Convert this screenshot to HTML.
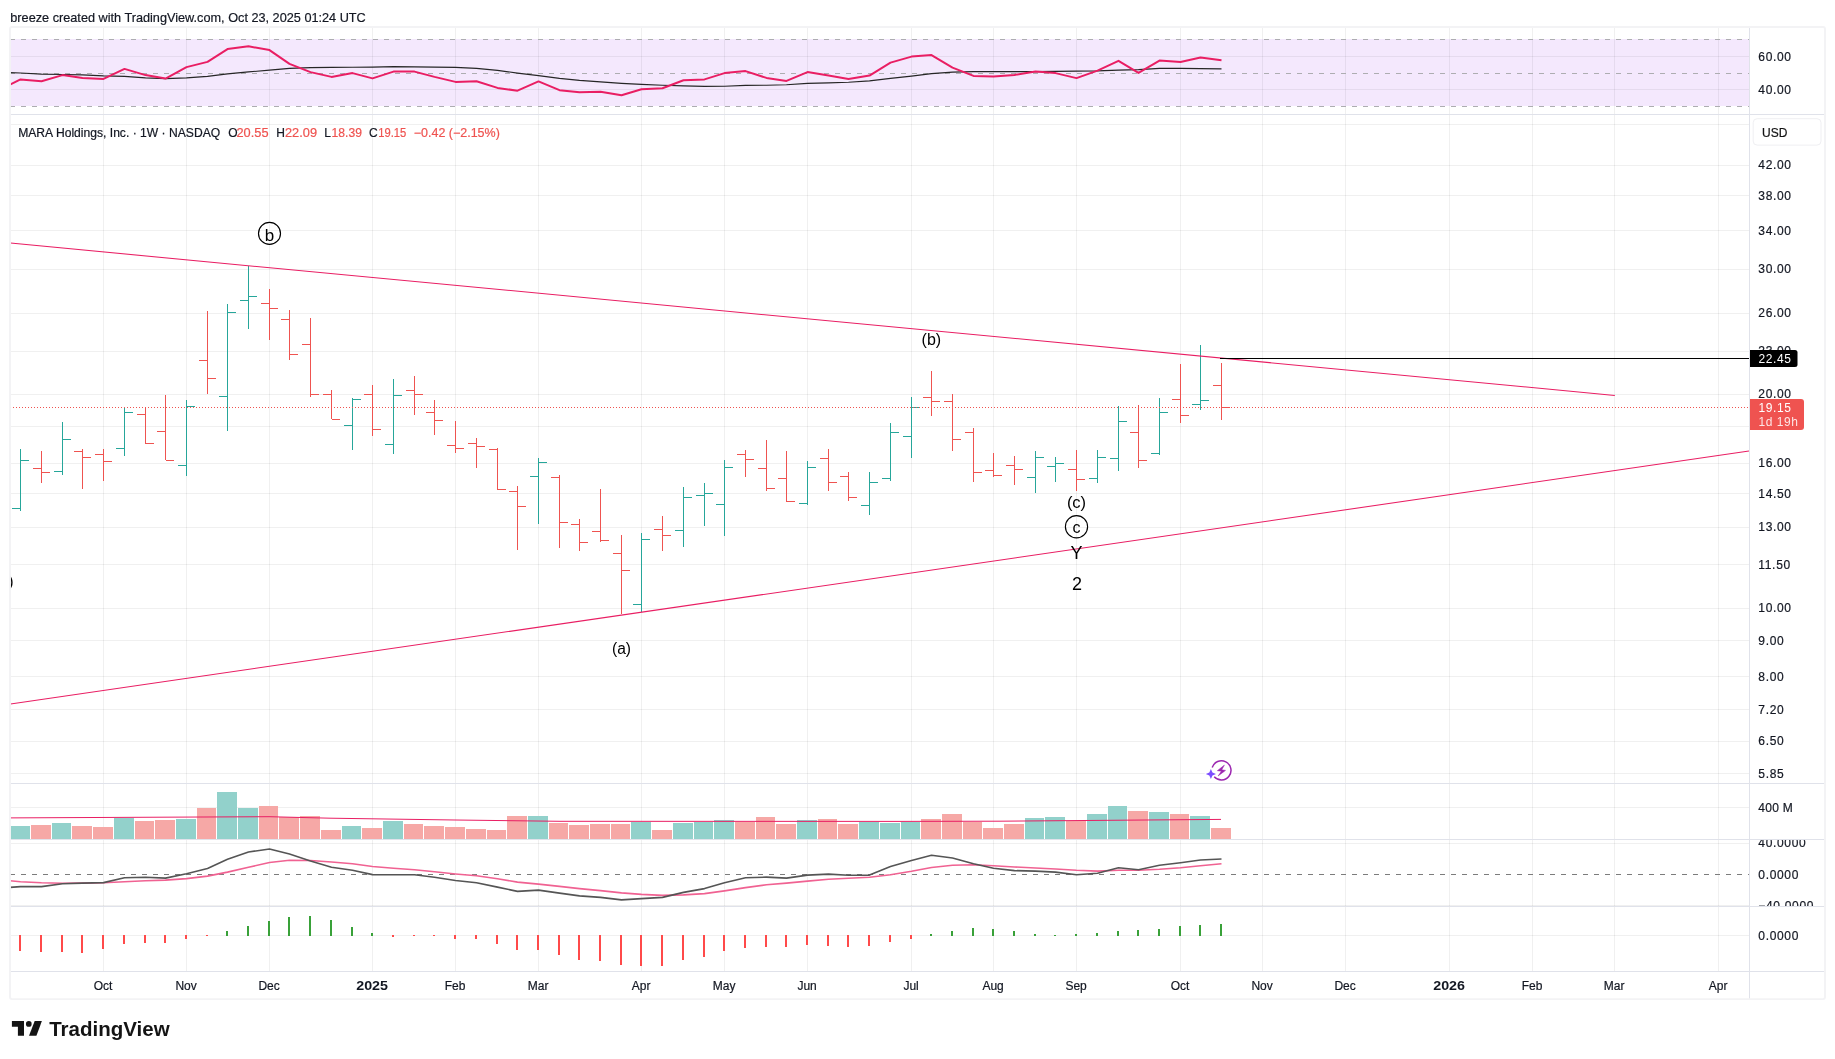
<!DOCTYPE html>
<html><head><meta charset="utf-8"><title>MARA chart</title>
<style>html,body{margin:0;padding:0;background:#fff}body{width:1835px;height:1059px;overflow:hidden}svg{will-change:transform}</style></head>
<body>
<svg width="1835" height="1059" viewBox="0 0 1835 1059" style="display:block;font-family:'Liberation Sans',sans-serif">
<defs><clipPath id="cp"><rect x="10.2" y="27" width="1739" height="945"/></clipPath>
<clipPath id="cpm"><rect x="1750" y="840" width="75" height="66"/></clipPath></defs>
<rect width="1835" height="1059" fill="#fff"/>
<rect x="10" y="39" width="1739" height="67" fill="#f4e8fd"/>
<g shape-rendering="crispEdges" fill="#000" fill-opacity="0.06">
<rect x="103" y="27" width="1" height="944"/>
<rect x="186" y="27" width="1" height="944"/>
<rect x="269" y="27" width="1" height="944"/>
<rect x="372" y="27" width="1" height="944"/>
<rect x="455" y="27" width="1" height="944"/>
<rect x="538" y="27" width="1" height="944"/>
<rect x="641" y="27" width="1" height="944"/>
<rect x="724" y="27" width="1" height="944"/>
<rect x="807" y="27" width="1" height="944"/>
<rect x="911" y="27" width="1" height="944"/>
<rect x="993" y="27" width="1" height="944"/>
<rect x="1076" y="27" width="1" height="944"/>
<rect x="1180" y="27" width="1" height="944"/>
<rect x="1262" y="27" width="1" height="944"/>
<rect x="1345" y="27" width="1" height="944"/>
<rect x="1449" y="27" width="1" height="944"/>
<rect x="1532" y="27" width="1" height="944"/>
<rect x="1614" y="27" width="1" height="944"/>
<rect x="1718" y="27" width="1" height="944"/>
<rect x="10" y="124" width="1739" height="1"/>
<rect x="10" y="165" width="1739" height="1"/>
<rect x="10" y="195" width="1739" height="1"/>
<rect x="10" y="230" width="1739" height="1"/>
<rect x="10" y="269" width="1739" height="1"/>
<rect x="10" y="313" width="1739" height="1"/>
<rect x="10" y="351" width="1739" height="1"/>
<rect x="10" y="394" width="1739" height="1"/>
<rect x="10" y="426" width="1739" height="1"/>
<rect x="10" y="463" width="1739" height="1"/>
<rect x="10" y="493" width="1739" height="1"/>
<rect x="10" y="527" width="1739" height="1"/>
<rect x="10" y="564" width="1739" height="1"/>
<rect x="10" y="608" width="1739" height="1"/>
<rect x="10" y="640" width="1739" height="1"/>
<rect x="10" y="676" width="1739" height="1"/>
<rect x="10" y="709" width="1739" height="1"/>
<rect x="10" y="741" width="1739" height="1"/>
<rect x="10" y="773" width="1739" height="1"/>
<rect x="10" y="56" width="1739" height="1"/>
<rect x="10" y="89" width="1739" height="1"/>
<rect x="10" y="807" width="1739" height="1"/>
<rect x="10" y="843" width="1739" height="1"/>
<rect x="10" y="905" width="1739" height="1"/>
<rect x="10" y="935" width="1739" height="1"/>
</g>
<line x1="10" x2="1749" y1="39.5" y2="39.5" stroke="#adadb1" stroke-width="1" stroke-dasharray="5,6" shape-rendering="crispEdges"/>
<line x1="10" x2="1749" y1="73.5" y2="73.5" stroke="#adadb1" stroke-width="1" stroke-dasharray="5,6" shape-rendering="crispEdges"/>
<line x1="10" x2="1749" y1="106.5" y2="106.5" stroke="#adadb1" stroke-width="1" stroke-dasharray="5,6" shape-rendering="crispEdges"/>
<line x1="10" x2="1749" y1="874.5" y2="874.5" stroke="#7c7c7c" stroke-width="1" stroke-dasharray="5,6" shape-rendering="crispEdges"/>
<g clip-path="url(#cp)">
<rect x="10" y="826" width="20" height="13" fill="#92d1cb" shape-rendering="crispEdges"/>
<rect x="31" y="825" width="20" height="14" fill="#f6a8a6" shape-rendering="crispEdges"/>
<rect x="52" y="823" width="19" height="16" fill="#92d1cb" shape-rendering="crispEdges"/>
<rect x="72" y="826" width="20" height="13" fill="#f6a8a6" shape-rendering="crispEdges"/>
<rect x="93" y="827" width="20" height="12" fill="#f6a8a6" shape-rendering="crispEdges"/>
<rect x="114" y="818" width="20" height="21" fill="#92d1cb" shape-rendering="crispEdges"/>
<rect x="135" y="821" width="19" height="18" fill="#f6a8a6" shape-rendering="crispEdges"/>
<rect x="155" y="820" width="20" height="19" fill="#f6a8a6" shape-rendering="crispEdges"/>
<rect x="176" y="819" width="20" height="20" fill="#92d1cb" shape-rendering="crispEdges"/>
<rect x="197" y="808" width="19" height="31" fill="#f6a8a6" shape-rendering="crispEdges"/>
<rect x="217" y="792" width="20" height="47" fill="#92d1cb" shape-rendering="crispEdges"/>
<rect x="238" y="808" width="20" height="31" fill="#92d1cb" shape-rendering="crispEdges"/>
<rect x="259" y="806" width="19" height="33" fill="#f6a8a6" shape-rendering="crispEdges"/>
<rect x="279" y="817" width="20" height="22" fill="#f6a8a6" shape-rendering="crispEdges"/>
<rect x="300" y="816" width="20" height="23" fill="#f6a8a6" shape-rendering="crispEdges"/>
<rect x="321" y="830" width="20" height="9" fill="#f6a8a6" shape-rendering="crispEdges"/>
<rect x="342" y="826" width="19" height="13" fill="#92d1cb" shape-rendering="crispEdges"/>
<rect x="362" y="828" width="20" height="11" fill="#f6a8a6" shape-rendering="crispEdges"/>
<rect x="383" y="821" width="20" height="18" fill="#92d1cb" shape-rendering="crispEdges"/>
<rect x="404" y="824" width="19" height="15" fill="#f6a8a6" shape-rendering="crispEdges"/>
<rect x="424" y="826" width="20" height="13" fill="#f6a8a6" shape-rendering="crispEdges"/>
<rect x="445" y="827" width="20" height="12" fill="#f6a8a6" shape-rendering="crispEdges"/>
<rect x="466" y="829" width="20" height="10" fill="#f6a8a6" shape-rendering="crispEdges"/>
<rect x="487" y="830" width="19" height="9" fill="#f6a8a6" shape-rendering="crispEdges"/>
<rect x="507" y="816" width="20" height="23" fill="#f6a8a6" shape-rendering="crispEdges"/>
<rect x="528" y="816" width="20" height="23" fill="#92d1cb" shape-rendering="crispEdges"/>
<rect x="549" y="823" width="19" height="16" fill="#f6a8a6" shape-rendering="crispEdges"/>
<rect x="569" y="825" width="20" height="14" fill="#f6a8a6" shape-rendering="crispEdges"/>
<rect x="590" y="824" width="20" height="15" fill="#f6a8a6" shape-rendering="crispEdges"/>
<rect x="611" y="824" width="19" height="15" fill="#f6a8a6" shape-rendering="crispEdges"/>
<rect x="631" y="822" width="20" height="17" fill="#92d1cb" shape-rendering="crispEdges"/>
<rect x="652" y="830" width="20" height="9" fill="#f6a8a6" shape-rendering="crispEdges"/>
<rect x="673" y="823" width="20" height="16" fill="#92d1cb" shape-rendering="crispEdges"/>
<rect x="694" y="822" width="19" height="17" fill="#92d1cb" shape-rendering="crispEdges"/>
<rect x="714" y="820" width="20" height="19" fill="#92d1cb" shape-rendering="crispEdges"/>
<rect x="735" y="822" width="20" height="17" fill="#f6a8a6" shape-rendering="crispEdges"/>
<rect x="756" y="817" width="19" height="22" fill="#f6a8a6" shape-rendering="crispEdges"/>
<rect x="776" y="824" width="20" height="15" fill="#f6a8a6" shape-rendering="crispEdges"/>
<rect x="797" y="820" width="20" height="19" fill="#92d1cb" shape-rendering="crispEdges"/>
<rect x="818" y="819" width="19" height="20" fill="#f6a8a6" shape-rendering="crispEdges"/>
<rect x="838" y="824" width="20" height="15" fill="#f6a8a6" shape-rendering="crispEdges"/>
<rect x="859" y="822" width="20" height="17" fill="#92d1cb" shape-rendering="crispEdges"/>
<rect x="880" y="823" width="20" height="16" fill="#92d1cb" shape-rendering="crispEdges"/>
<rect x="901" y="822" width="19" height="17" fill="#92d1cb" shape-rendering="crispEdges"/>
<rect x="921" y="819" width="20" height="20" fill="#f6a8a6" shape-rendering="crispEdges"/>
<rect x="942" y="814" width="20" height="25" fill="#f6a8a6" shape-rendering="crispEdges"/>
<rect x="963" y="822" width="19" height="17" fill="#f6a8a6" shape-rendering="crispEdges"/>
<rect x="983" y="828" width="20" height="11" fill="#f6a8a6" shape-rendering="crispEdges"/>
<rect x="1004" y="824" width="20" height="15" fill="#f6a8a6" shape-rendering="crispEdges"/>
<rect x="1025" y="818" width="19" height="21" fill="#92d1cb" shape-rendering="crispEdges"/>
<rect x="1045" y="817" width="20" height="22" fill="#92d1cb" shape-rendering="crispEdges"/>
<rect x="1066" y="821" width="20" height="18" fill="#f6a8a6" shape-rendering="crispEdges"/>
<rect x="1087" y="814" width="20" height="25" fill="#92d1cb" shape-rendering="crispEdges"/>
<rect x="1108" y="806" width="19" height="33" fill="#92d1cb" shape-rendering="crispEdges"/>
<rect x="1128" y="811" width="20" height="28" fill="#f6a8a6" shape-rendering="crispEdges"/>
<rect x="1149" y="812" width="20" height="27" fill="#92d1cb" shape-rendering="crispEdges"/>
<rect x="1170" y="814" width="19" height="25" fill="#f6a8a6" shape-rendering="crispEdges"/>
<rect x="1190" y="816" width="20" height="23" fill="#92d1cb" shape-rendering="crispEdges"/>
<rect x="1211" y="828" width="20" height="11" fill="#f6a8a6" shape-rendering="crispEdges"/>
<polyline fill="none" stroke="#e91e63" stroke-width="1" points="10,817.9 269,816.7 330,818.2 455,820.0 560,821.3 900,821.4 1000,821.2 1221,819.4"/>
<g fill="#26a69a" shape-rendering="crispEdges"><rect x="20" y="449" width="1" height="62"/><rect x="12" y="508" width="8" height="1"/><rect x="21" y="460" width="8" height="1"/></g>
<g fill="#ef5350" shape-rendering="crispEdges"><rect x="41" y="451" width="1" height="32"/><rect x="33" y="468" width="8" height="1"/><rect x="42" y="472" width="8" height="1"/></g>
<g fill="#26a69a" shape-rendering="crispEdges"><rect x="62" y="422" width="1" height="53"/><rect x="54" y="471" width="8" height="1"/><rect x="63" y="439" width="8" height="1"/></g>
<g fill="#ef5350" shape-rendering="crispEdges"><rect x="82" y="449" width="1" height="40"/><rect x="74" y="451" width="8" height="1"/><rect x="83" y="457" width="8" height="1"/></g>
<g fill="#ef5350" shape-rendering="crispEdges"><rect x="103" y="449" width="1" height="32"/><rect x="95" y="454" width="8" height="1"/><rect x="104" y="461" width="8" height="1"/></g>
<g fill="#26a69a" shape-rendering="crispEdges"><rect x="124" y="408" width="1" height="48"/><rect x="116" y="448" width="8" height="1"/><rect x="125" y="412" width="8" height="1"/></g>
<g fill="#ef5350" shape-rendering="crispEdges"><rect x="145" y="407" width="1" height="37"/><rect x="137" y="414" width="8" height="1"/><rect x="146" y="443" width="8" height="1"/></g>
<g fill="#ef5350" shape-rendering="crispEdges"><rect x="165" y="395" width="1" height="65"/><rect x="157" y="431" width="8" height="1"/><rect x="166" y="460" width="8" height="1"/></g>
<g fill="#26a69a" shape-rendering="crispEdges"><rect x="186" y="400" width="1" height="76"/><rect x="178" y="465" width="8" height="1"/><rect x="187" y="406" width="8" height="1"/></g>
<g fill="#ef5350" shape-rendering="crispEdges"><rect x="207" y="311" width="1" height="83"/><rect x="199" y="360" width="8" height="1"/><rect x="208" y="378" width="8" height="1"/></g>
<g fill="#26a69a" shape-rendering="crispEdges"><rect x="227" y="304" width="1" height="127"/><rect x="219" y="396" width="8" height="1"/><rect x="228" y="312" width="8" height="1"/></g>
<g fill="#26a69a" shape-rendering="crispEdges"><rect x="248" y="266" width="1" height="63"/><rect x="240" y="300" width="8" height="1"/><rect x="249" y="296" width="8" height="1"/></g>
<g fill="#ef5350" shape-rendering="crispEdges"><rect x="269" y="289" width="1" height="51"/><rect x="261" y="303" width="8" height="1"/><rect x="270" y="308" width="8" height="1"/></g>
<g fill="#ef5350" shape-rendering="crispEdges"><rect x="289" y="310" width="1" height="50"/><rect x="281" y="319" width="8" height="1"/><rect x="290" y="354" width="8" height="1"/></g>
<g fill="#ef5350" shape-rendering="crispEdges"><rect x="310" y="318" width="1" height="79"/><rect x="302" y="344" width="8" height="1"/><rect x="311" y="394" width="8" height="1"/></g>
<g fill="#ef5350" shape-rendering="crispEdges"><rect x="331" y="390" width="1" height="29"/><rect x="323" y="394" width="8" height="1"/><rect x="332" y="419" width="8" height="1"/></g>
<g fill="#26a69a" shape-rendering="crispEdges"><rect x="352" y="398" width="1" height="52"/><rect x="344" y="425" width="8" height="1"/><rect x="353" y="399" width="8" height="1"/></g>
<g fill="#ef5350" shape-rendering="crispEdges"><rect x="372" y="385" width="1" height="51"/><rect x="364" y="394" width="8" height="1"/><rect x="373" y="429" width="8" height="1"/></g>
<g fill="#26a69a" shape-rendering="crispEdges"><rect x="393" y="379" width="1" height="75"/><rect x="385" y="444" width="8" height="1"/><rect x="394" y="395" width="8" height="1"/></g>
<g fill="#ef5350" shape-rendering="crispEdges"><rect x="414" y="376" width="1" height="39"/><rect x="406" y="390" width="8" height="1"/><rect x="415" y="394" width="8" height="1"/></g>
<g fill="#ef5350" shape-rendering="crispEdges"><rect x="434" y="400" width="1" height="35"/><rect x="426" y="412" width="8" height="1"/><rect x="435" y="420" width="8" height="1"/></g>
<g fill="#ef5350" shape-rendering="crispEdges"><rect x="455" y="421" width="1" height="32"/><rect x="447" y="445" width="8" height="1"/><rect x="456" y="448" width="8" height="1"/></g>
<g fill="#ef5350" shape-rendering="crispEdges"><rect x="476" y="438" width="1" height="30"/><rect x="468" y="443" width="8" height="1"/><rect x="477" y="446" width="8" height="1"/></g>
<g fill="#ef5350" shape-rendering="crispEdges"><rect x="497" y="448" width="1" height="42"/><rect x="489" y="449" width="8" height="1"/><rect x="498" y="489" width="8" height="1"/></g>
<g fill="#ef5350" shape-rendering="crispEdges"><rect x="517" y="486" width="1" height="64"/><rect x="509" y="491" width="8" height="1"/><rect x="518" y="506" width="8" height="1"/></g>
<g fill="#26a69a" shape-rendering="crispEdges"><rect x="538" y="458" width="1" height="66"/><rect x="530" y="476" width="8" height="1"/><rect x="539" y="462" width="8" height="1"/></g>
<g fill="#ef5350" shape-rendering="crispEdges"><rect x="559" y="475" width="1" height="73"/><rect x="551" y="477" width="8" height="1"/><rect x="560" y="522" width="8" height="1"/></g>
<g fill="#ef5350" shape-rendering="crispEdges"><rect x="579" y="519" width="1" height="32"/><rect x="571" y="524" width="8" height="1"/><rect x="580" y="542" width="8" height="1"/></g>
<g fill="#ef5350" shape-rendering="crispEdges"><rect x="600" y="489" width="1" height="53"/><rect x="592" y="531" width="8" height="1"/><rect x="601" y="540" width="8" height="1"/></g>
<g fill="#ef5350" shape-rendering="crispEdges"><rect x="621" y="535" width="1" height="79"/><rect x="613" y="553" width="8" height="1"/><rect x="622" y="570" width="8" height="1"/></g>
<g fill="#26a69a" shape-rendering="crispEdges"><rect x="641" y="533" width="1" height="79"/><rect x="633" y="604" width="8" height="1"/><rect x="642" y="539" width="8" height="1"/></g>
<g fill="#ef5350" shape-rendering="crispEdges"><rect x="662" y="516" width="1" height="35"/><rect x="654" y="529" width="8" height="1"/><rect x="663" y="535" width="8" height="1"/></g>
<g fill="#26a69a" shape-rendering="crispEdges"><rect x="683" y="487" width="1" height="60"/><rect x="675" y="530" width="8" height="1"/><rect x="684" y="497" width="8" height="1"/></g>
<g fill="#26a69a" shape-rendering="crispEdges"><rect x="704" y="483" width="1" height="43"/><rect x="696" y="495" width="8" height="1"/><rect x="705" y="493" width="8" height="1"/></g>
<g fill="#26a69a" shape-rendering="crispEdges"><rect x="724" y="460" width="1" height="76"/><rect x="716" y="504" width="8" height="1"/><rect x="725" y="467" width="8" height="1"/></g>
<g fill="#ef5350" shape-rendering="crispEdges"><rect x="745" y="450" width="1" height="27"/><rect x="737" y="454" width="8" height="1"/><rect x="746" y="459" width="8" height="1"/></g>
<g fill="#ef5350" shape-rendering="crispEdges"><rect x="766" y="440" width="1" height="51"/><rect x="758" y="468" width="8" height="1"/><rect x="767" y="488" width="8" height="1"/></g>
<g fill="#ef5350" shape-rendering="crispEdges"><rect x="786" y="451" width="1" height="51"/><rect x="778" y="478" width="8" height="1"/><rect x="787" y="501" width="8" height="1"/></g>
<g fill="#26a69a" shape-rendering="crispEdges"><rect x="807" y="461" width="1" height="44"/><rect x="799" y="503" width="8" height="1"/><rect x="808" y="467" width="8" height="1"/></g>
<g fill="#ef5350" shape-rendering="crispEdges"><rect x="828" y="449" width="1" height="42"/><rect x="820" y="458" width="8" height="1"/><rect x="829" y="482" width="8" height="1"/></g>
<g fill="#ef5350" shape-rendering="crispEdges"><rect x="848" y="472" width="1" height="29"/><rect x="840" y="476" width="8" height="1"/><rect x="849" y="497" width="8" height="1"/></g>
<g fill="#26a69a" shape-rendering="crispEdges"><rect x="869" y="472" width="1" height="43"/><rect x="861" y="505" width="8" height="1"/><rect x="870" y="482" width="8" height="1"/></g>
<g fill="#26a69a" shape-rendering="crispEdges"><rect x="890" y="423" width="1" height="58"/><rect x="882" y="478" width="8" height="1"/><rect x="891" y="432" width="8" height="1"/></g>
<g fill="#26a69a" shape-rendering="crispEdges"><rect x="911" y="397" width="1" height="61"/><rect x="903" y="436" width="8" height="1"/><rect x="912" y="407" width="8" height="1"/></g>
<g fill="#ef5350" shape-rendering="crispEdges"><rect x="931" y="371" width="1" height="45"/><rect x="923" y="397" width="8" height="1"/><rect x="932" y="401" width="8" height="1"/></g>
<g fill="#ef5350" shape-rendering="crispEdges"><rect x="952" y="394" width="1" height="57"/><rect x="944" y="401" width="8" height="1"/><rect x="953" y="439" width="8" height="1"/></g>
<g fill="#ef5350" shape-rendering="crispEdges"><rect x="973" y="428" width="1" height="54"/><rect x="965" y="432" width="8" height="1"/><rect x="974" y="472" width="8" height="1"/></g>
<g fill="#ef5350" shape-rendering="crispEdges"><rect x="993" y="453" width="1" height="24"/><rect x="985" y="470" width="8" height="1"/><rect x="994" y="475" width="8" height="1"/></g>
<g fill="#ef5350" shape-rendering="crispEdges"><rect x="1014" y="456" width="1" height="29"/><rect x="1006" y="465" width="8" height="1"/><rect x="1015" y="469" width="8" height="1"/></g>
<g fill="#26a69a" shape-rendering="crispEdges"><rect x="1035" y="451" width="1" height="42"/><rect x="1027" y="477" width="8" height="1"/><rect x="1036" y="457" width="8" height="1"/></g>
<g fill="#26a69a" shape-rendering="crispEdges"><rect x="1055" y="457" width="1" height="25"/><rect x="1047" y="466" width="8" height="1"/><rect x="1056" y="463" width="8" height="1"/></g>
<g fill="#ef5350" shape-rendering="crispEdges"><rect x="1076" y="450" width="1" height="41"/><rect x="1068" y="469" width="8" height="1"/><rect x="1077" y="479" width="8" height="1"/></g>
<g fill="#26a69a" shape-rendering="crispEdges"><rect x="1097" y="450" width="1" height="33"/><rect x="1089" y="478" width="8" height="1"/><rect x="1098" y="457" width="8" height="1"/></g>
<g fill="#26a69a" shape-rendering="crispEdges"><rect x="1118" y="406" width="1" height="65"/><rect x="1110" y="458" width="8" height="1"/><rect x="1119" y="421" width="8" height="1"/></g>
<g fill="#ef5350" shape-rendering="crispEdges"><rect x="1138" y="405" width="1" height="63"/><rect x="1130" y="432" width="8" height="1"/><rect x="1139" y="460" width="8" height="1"/></g>
<g fill="#26a69a" shape-rendering="crispEdges"><rect x="1159" y="398" width="1" height="57"/><rect x="1151" y="453" width="8" height="1"/><rect x="1160" y="412" width="8" height="1"/></g>
<g fill="#ef5350" shape-rendering="crispEdges"><rect x="1180" y="364" width="1" height="59"/><rect x="1172" y="399" width="8" height="1"/><rect x="1181" y="415" width="8" height="1"/></g>
<g fill="#26a69a" shape-rendering="crispEdges"><rect x="1200" y="345" width="1" height="65"/><rect x="1192" y="404" width="8" height="1"/><rect x="1201" y="400" width="8" height="1"/></g>
<g fill="#ef5350" shape-rendering="crispEdges"><rect x="1221" y="363" width="1" height="57"/><rect x="1213" y="385" width="8" height="1"/><rect x="1222" y="407" width="8" height="1"/></g>
<line x1="10.5" y1="243.1" x2="1614.8" y2="395.45" stroke="#e91e63" stroke-width="1.05"/>
<line x1="10.5" y1="704.0" x2="1749" y2="451.1" stroke="#e91e63" stroke-width="1.05"/>
<rect x="1220" y="358" width="530" height="1" fill="#000" shape-rendering="crispEdges"/>
<line x1="10" x2="1749" y1="407.5" y2="407.5" stroke="#ef5350" stroke-width="1" stroke-dasharray="1,2" shape-rendering="crispEdges"/>
<polyline fill="none" stroke="#262626" stroke-width="1.1" stroke-linejoin="round" points="10,72.6 20.5,73.0 41.5,74.1 62.5,74.5 82.5,74.9 103.5,75.9 124.5,76.4 145.5,77.9 165.5,78.6 186.5,77.9 207.5,76.4 227.5,73.9 248.5,71.9 269.5,70.1 289.5,68.4 310.5,67.6 331.5,67.4 352.5,67.2 372.5,67.1 393.5,66.6 414.5,66.9 434.5,67.1 455.5,67.4 476.5,68.4 497.5,70.4 517.5,73.1 538.5,75.6 559.5,78.4 579.5,80.4 600.5,81.9 621.5,83.4 641.5,84.4 662.5,85.2 683.5,85.9 704.5,86.4 724.5,86.2 745.5,85.4 766.5,85.2 786.5,84.7 807.5,83.4 828.5,82.9 848.5,82.2 869.5,80.9 890.5,78.4 911.5,76.1 931.5,73.6 952.5,72.1 973.5,71.6 993.5,71.6 1014.5,71.6 1035.5,71.6 1055.5,71.4 1076.5,71.1 1097.5,70.9 1118.5,70.1 1138.5,69.6 1159.5,68.4 1180.5,68.4 1200.5,68.6 1221.5,68.9"/>
<polyline fill="none" stroke="#e91e63" stroke-width="2" stroke-linejoin="round" points="10,84.7 20.5,79.4 41.5,81.2 62.5,75.1 82.5,77.9 103.5,78.9 124.5,68.9 145.5,75.1 165.5,78.6 186.5,67.1 207.5,61.9 227.5,49.1 248.5,46.3 269.5,50.1 289.5,63.9 310.5,72.1 331.5,76.9 352.5,73.1 372.5,78.4 393.5,71.6 414.5,71.6 434.5,76.9 455.5,81.9 476.5,81.2 497.5,87.9 517.5,90.7 538.5,81.4 559.5,90.2 579.5,92.2 600.5,91.7 621.5,95.2 641.5,89.2 662.5,88.2 683.5,80.2 704.5,79.4 724.5,73.1 745.5,71.1 766.5,77.9 786.5,80.9 807.5,72.1 828.5,75.6 848.5,79.1 869.5,75.6 890.5,62.6 911.5,56.6 931.5,55.1 952.5,67.6 973.5,75.9 993.5,76.6 1014.5,74.9 1035.5,71.6 1055.5,73.1 1076.5,78.1 1097.5,70.6 1118.5,60.8 1138.5,72.9 1159.5,60.6 1180.5,61.9 1200.5,57.6 1221.5,60.3"/>
<polyline fill="none" stroke="#f06292" stroke-width="1.6" stroke-linejoin="round" points="10,880.8 20.5,881.8 41.5,882.8 62.5,883.3 82.5,883.1 103.5,882.8 124.5,881.8 145.5,880.8 165.5,880.1 186.5,878.6 207.5,876.1 227.5,872.1 248.5,867.3 269.5,862.5 289.5,860.3 310.5,860.5 331.5,862 352.5,863.8 372.5,866.5 393.5,868.3 414.5,869.8 434.5,871.8 455.5,874 476.5,875.8 497.5,878.8 517.5,882.1 538.5,884.1 559.5,886.4 579.5,888.6 600.5,890.6 621.5,892.9 641.5,894.4 662.5,895.4 683.5,894.9 704.5,893.6 724.5,890.9 745.5,887.6 766.5,884.8 786.5,883.1 807.5,881.1 828.5,879.3 848.5,878.3 869.5,877.3 890.5,874.8 911.5,871.3 931.5,867.5 952.5,865.3 973.5,864.8 993.5,865.8 1014.5,867 1035.5,868 1055.5,869 1076.5,870.3 1097.5,871.1 1118.5,870.3 1138.5,870.3 1159.5,869.3 1180.5,867.8 1200.5,865.8 1221.5,863.8"/>
<polyline fill="none" stroke="#555" stroke-width="1.6" stroke-linejoin="round" points="10,887.4 20.5,886.6 41.5,886.6 62.5,883.8 82.5,883.1 103.5,882.6 124.5,877.8 145.5,877.3 165.5,878.1 186.5,873.8 207.5,868.5 227.5,859.3 248.5,852 269.5,849 289.5,854 310.5,861 331.5,867.3 352.5,870.3 372.5,874.6 393.5,874.8 414.5,874.8 434.5,877.3 455.5,880.5 476.5,882.8 497.5,887.1 517.5,891.4 538.5,890.1 559.5,893.1 579.5,895.9 600.5,897.4 621.5,899.9 641.5,898.6 662.5,897.4 683.5,892.4 704.5,888.6 724.5,882.8 745.5,877.8 766.5,877.1 786.5,878.1 807.5,875.1 828.5,874.1 848.5,875.3 869.5,875.1 890.5,866.5 911.5,860.5 931.5,855.3 952.5,858 973.5,863.8 993.5,868.3 1014.5,870.6 1035.5,871.1 1055.5,872.1 1076.5,874.8 1097.5,873.3 1118.5,867.8 1138.5,869.8 1159.5,865.3 1180.5,862.8 1200.5,860 1221.5,859"/>
<rect x="19" y="935" width="2" height="16" fill="#ff4a4a" shape-rendering="crispEdges"/>
<rect x="40" y="935" width="2" height="17" fill="#ff4a4a" shape-rendering="crispEdges"/>
<rect x="61" y="935" width="2" height="17" fill="#ff4a4a" shape-rendering="crispEdges"/>
<rect x="81" y="935" width="2" height="18" fill="#ff4a4a" shape-rendering="crispEdges"/>
<rect x="102" y="935" width="2" height="14" fill="#ff4a4a" shape-rendering="crispEdges"/>
<rect x="123" y="935" width="2" height="9" fill="#ff4a4a" shape-rendering="crispEdges"/>
<rect x="144" y="935" width="2" height="8" fill="#ff4a4a" shape-rendering="crispEdges"/>
<rect x="164" y="935" width="2" height="8" fill="#ff4a4a" shape-rendering="crispEdges"/>
<rect x="185" y="935" width="2" height="4" fill="#ff4a4a" shape-rendering="crispEdges"/>
<rect x="206" y="935" width="2" height="1" fill="#ff4a4a" shape-rendering="crispEdges"/>
<rect x="226" y="931" width="2" height="5" fill="#39a139" shape-rendering="crispEdges"/>
<rect x="247" y="926" width="2" height="10" fill="#39a139" shape-rendering="crispEdges"/>
<rect x="268" y="921" width="2" height="15" fill="#39a139" shape-rendering="crispEdges"/>
<rect x="288" y="917" width="2" height="19" fill="#39a139" shape-rendering="crispEdges"/>
<rect x="309" y="916" width="2" height="20" fill="#39a139" shape-rendering="crispEdges"/>
<rect x="330" y="920" width="2" height="16" fill="#39a139" shape-rendering="crispEdges"/>
<rect x="351" y="927" width="2" height="9" fill="#39a139" shape-rendering="crispEdges"/>
<rect x="371" y="933" width="2" height="3" fill="#39a139" shape-rendering="crispEdges"/>
<rect x="392" y="935" width="2" height="2" fill="#ff4a4a" shape-rendering="crispEdges"/>
<rect x="413" y="935" width="2" height="1" fill="#ff4a4a" shape-rendering="crispEdges"/>
<rect x="433" y="935" width="2" height="1" fill="#ff4a4a" shape-rendering="crispEdges"/>
<rect x="454" y="935" width="2" height="4" fill="#ff4a4a" shape-rendering="crispEdges"/>
<rect x="475" y="935" width="2" height="4" fill="#ff4a4a" shape-rendering="crispEdges"/>
<rect x="496" y="935" width="2" height="9" fill="#ff4a4a" shape-rendering="crispEdges"/>
<rect x="516" y="935" width="2" height="15" fill="#ff4a4a" shape-rendering="crispEdges"/>
<rect x="537" y="935" width="2" height="15" fill="#ff4a4a" shape-rendering="crispEdges"/>
<rect x="558" y="935" width="2" height="20" fill="#ff4a4a" shape-rendering="crispEdges"/>
<rect x="578" y="935" width="2" height="25" fill="#ff4a4a" shape-rendering="crispEdges"/>
<rect x="599" y="935" width="2" height="26" fill="#ff4a4a" shape-rendering="crispEdges"/>
<rect x="620" y="935" width="2" height="30" fill="#ff4a4a" shape-rendering="crispEdges"/>
<rect x="640" y="935" width="2" height="31" fill="#ff4a4a" shape-rendering="crispEdges"/>
<rect x="661" y="935" width="2" height="31" fill="#ff4a4a" shape-rendering="crispEdges"/>
<rect x="682" y="935" width="2" height="25" fill="#ff4a4a" shape-rendering="crispEdges"/>
<rect x="703" y="935" width="2" height="22" fill="#ff4a4a" shape-rendering="crispEdges"/>
<rect x="723" y="935" width="2" height="16" fill="#ff4a4a" shape-rendering="crispEdges"/>
<rect x="744" y="935" width="2" height="13" fill="#ff4a4a" shape-rendering="crispEdges"/>
<rect x="765" y="935" width="2" height="12" fill="#ff4a4a" shape-rendering="crispEdges"/>
<rect x="785" y="935" width="2" height="12" fill="#ff4a4a" shape-rendering="crispEdges"/>
<rect x="806" y="935" width="2" height="10" fill="#ff4a4a" shape-rendering="crispEdges"/>
<rect x="827" y="935" width="2" height="11" fill="#ff4a4a" shape-rendering="crispEdges"/>
<rect x="847" y="935" width="2" height="12" fill="#ff4a4a" shape-rendering="crispEdges"/>
<rect x="868" y="935" width="2" height="11" fill="#ff4a4a" shape-rendering="crispEdges"/>
<rect x="889" y="935" width="2" height="7" fill="#ff4a4a" shape-rendering="crispEdges"/>
<rect x="910" y="935" width="2" height="4" fill="#ff4a4a" shape-rendering="crispEdges"/>
<rect x="930" y="934" width="2" height="2" fill="#39a139" shape-rendering="crispEdges"/>
<rect x="951" y="931" width="2" height="5" fill="#39a139" shape-rendering="crispEdges"/>
<rect x="972" y="928" width="2" height="8" fill="#39a139" shape-rendering="crispEdges"/>
<rect x="992" y="929" width="2" height="7" fill="#39a139" shape-rendering="crispEdges"/>
<rect x="1013" y="931" width="2" height="5" fill="#39a139" shape-rendering="crispEdges"/>
<rect x="1034" y="934" width="2" height="2" fill="#39a139" shape-rendering="crispEdges"/>
<rect x="1054" y="935" width="2" height="1" fill="#39a139" shape-rendering="crispEdges"/>
<rect x="1075" y="934" width="2" height="2" fill="#39a139" shape-rendering="crispEdges"/>
<rect x="1096" y="933" width="2" height="3" fill="#39a139" shape-rendering="crispEdges"/>
<rect x="1117" y="931" width="2" height="5" fill="#39a139" shape-rendering="crispEdges"/>
<rect x="1137" y="930" width="2" height="6" fill="#39a139" shape-rendering="crispEdges"/>
<rect x="1158" y="929" width="2" height="7" fill="#39a139" shape-rendering="crispEdges"/>
<rect x="1179" y="926" width="2" height="10" fill="#39a139" shape-rendering="crispEdges"/>
<rect x="1199" y="925" width="2" height="11" fill="#39a139" shape-rendering="crispEdges"/>
<rect x="1220" y="924" width="2" height="12" fill="#39a139" shape-rendering="crispEdges"/>
<circle cx="269.5" cy="233.4" r="11" fill="none" stroke="#000" stroke-width="1.15"/>
<text x="269.6" y="241.2" font-size="17" fill="#000" text-anchor="middle">b</text>
<text x="931.4" y="345" font-size="16" fill="#000" text-anchor="middle">(b)</text>
<text x="621.5" y="653.6" font-size="15.6" fill="#000" text-anchor="middle">(a)</text>
<text x="1076.5" y="508.1" font-size="16.5" fill="#000" text-anchor="middle">(c)</text>
<circle cx="1076.5" cy="526.7" r="11.1" fill="none" stroke="#000" stroke-width="1.15"/>
<text x="1076.5" y="533.3" font-size="16" fill="#000" text-anchor="middle">c</text>
<text x="1076.4" y="558.8" font-size="18" fill="#000" text-anchor="middle">Y</text>
<text x="1076.9" y="590.1" font-size="18" fill="#000" text-anchor="middle">2</text>
<text x="13.5" y="586.5" font-size="16" fill="#000" text-anchor="end">)</text>
<g><rect x="1204.7" y="760" width="28.4" height="22" fill="#fff"/>
<path d="M1212.22,767.59 A9.6,9.6 0 1 1 1214.21,776.76" fill="none" stroke="#9c27b0" stroke-width="1.5"/>
<polygon fill="#9c27b0" stroke="#9c27b0" stroke-width="0.5" stroke-linejoin="round" points="1224.41,765.11 1217.34,770.70 1221.39,771.16 1218.10,775.99 1225.54,770.40 1221.76,769.83"/>
<polygon fill="#7c4dff" points="1210.90,768.90 1212.46,772.44 1216.00,774.00 1212.46,775.56 1210.90,779.10 1209.34,775.56 1205.80,774.00 1209.34,772.44"/></g>
</g>
<g shape-rendering="crispEdges" fill="#e0e2ea">
<rect x="10" y="114" width="1815" height="1"/>
<rect x="10" y="783" width="1815" height="1"/>
<rect x="10" y="839" width="1815" height="1"/>
<rect x="10" y="906" width="1815" height="1"/>
<rect x="10" y="971" width="1815" height="1"/>
<rect x="1749" y="27" width="1" height="972"/>
</g>
<rect x="10" y="27" width="1815" height="972.1" rx="2" fill="none" stroke="#f3f3f5" stroke-width="1.9"/>
<text x="1758.3" y="60.8" font-size="12" fill="#131722" letter-spacing="0.68" stroke="#131722" stroke-width="0.2" >60.00</text>
<text x="1758.3" y="93.8" font-size="12" fill="#131722" letter-spacing="0.68" stroke="#131722" stroke-width="0.2" >40.00</text>
<text x="1758.3" y="168.5" font-size="12" fill="#131722" letter-spacing="0.68" stroke="#131722" stroke-width="0.2" >42.00</text>
<text x="1758.3" y="199.5" font-size="12" fill="#131722" letter-spacing="0.68" stroke="#131722" stroke-width="0.2" >38.00</text>
<text x="1758.3" y="234.5" font-size="12" fill="#131722" letter-spacing="0.68" stroke="#131722" stroke-width="0.2" >34.00</text>
<text x="1758.3" y="272.9" font-size="12" fill="#131722" letter-spacing="0.68" stroke="#131722" stroke-width="0.2" >30.00</text>
<text x="1758.3" y="316.9" font-size="12" fill="#131722" letter-spacing="0.68" stroke="#131722" stroke-width="0.2" >26.00</text>
<text x="1758.3" y="355.09999999999997" font-size="12" fill="#131722" letter-spacing="0.68" stroke="#131722" stroke-width="0.2" >23.00</text>
<text x="1758.3" y="398.0" font-size="12" fill="#131722" letter-spacing="0.68" stroke="#131722" stroke-width="0.2" >20.00</text>
<text x="1758.3" y="430.2" font-size="12" fill="#131722" letter-spacing="0.68" stroke="#131722" stroke-width="0.2" >18.00</text>
<text x="1758.3" y="466.7" font-size="12" fill="#131722" letter-spacing="0.68" stroke="#131722" stroke-width="0.2" >16.00</text>
<text x="1758.3" y="497.59999999999997" font-size="12" fill="#131722" letter-spacing="0.68" stroke="#131722" stroke-width="0.2" >14.50</text>
<text x="1758.3" y="530.9" font-size="12" fill="#131722" letter-spacing="0.68" stroke="#131722" stroke-width="0.2" >13.00</text>
<text x="1758.3" y="568.6" font-size="12" fill="#131722" letter-spacing="0.68" stroke="#131722" stroke-width="0.2" >11.50</text>
<text x="1758.3" y="611.8" font-size="12" fill="#131722" letter-spacing="0.68" stroke="#131722" stroke-width="0.2" >10.00</text>
<text x="1758.3" y="644.6" font-size="12" fill="#131722" letter-spacing="0.68" stroke="#131722" stroke-width="0.2" >9.00</text>
<text x="1758.3" y="680.5" font-size="12" fill="#131722" letter-spacing="0.68" stroke="#131722" stroke-width="0.2" >8.00</text>
<text x="1758.3" y="713.5" font-size="12" fill="#131722" letter-spacing="0.68" stroke="#131722" stroke-width="0.2" >7.20</text>
<text x="1758.3" y="744.6999999999999" font-size="12" fill="#131722" letter-spacing="0.68" stroke="#131722" stroke-width="0.2" >6.50</text>
<text x="1758.3" y="777.5" font-size="12" fill="#131722" letter-spacing="0.68" stroke="#131722" stroke-width="0.2" >5.85</text>
<text x="1758.3" y="811.6" font-size="12" fill="#131722"  stroke="#131722" stroke-width="0.2" letter-spacing="0.3">400 M</text>
<g clip-path="url(#cpm)">
<text x="1758.3" y="847" font-size="12" fill="#131722" letter-spacing="0.68" stroke="#131722" stroke-width="0.2" >40.0000</text>
<text x="1758.3" y="910" font-size="12" fill="#131722" letter-spacing="0.68" stroke="#131722" stroke-width="0.2" >−40.0000</text>
</g>
<text x="1758.3" y="879.2" font-size="12" fill="#131722" letter-spacing="0.68" stroke="#131722" stroke-width="0.2" >0.0000</text>
<text x="1758.3" y="939.8" font-size="12" fill="#131722" letter-spacing="0.68" stroke="#131722" stroke-width="0.2" >0.0000</text>
<rect x="1753.2" y="118.7" width="67.8" height="26.4" rx="4" fill="#fff" stroke="#efeff2" stroke-width="1"/>
<text x="1762" y="136.7" font-size="12" fill="#131313" stroke="#131313" stroke-width="0.2">USD</text>
<path d="M1750,350 h45 a2.5,2.5 0 0 1 2.5,2.5 v12 a2.5,2.5 0 0 1 -2.5,2.5 h-45 z" fill="#000"/>
<text x="1758.5" y="363.1" font-size="12" fill="#fff" letter-spacing="0.6">22.45</text>
<path d="M1750,399 h51 a3,3 0 0 1 3,3 v25 a3,3 0 0 1 -3,3 h-51 z" fill="#ef5350"/>
<text x="1758.5" y="411.9" font-size="12" fill="#fff" letter-spacing="0.6">19.15</text>
<text x="1758.5" y="425.7" font-size="12" fill="#fff" fill-opacity="0.85" letter-spacing="0.55">1d 19h</text>
<text x="103.1" y="989.9" font-size="12" fill="#131722" stroke="#131722" stroke-width="0.2" text-anchor="middle">Oct</text>
<text x="186.1" y="989.9" font-size="12" fill="#131722" stroke="#131722" stroke-width="0.2" text-anchor="middle">Nov</text>
<text x="269.1" y="989.9" font-size="12" fill="#131722" stroke="#131722" stroke-width="0.2" text-anchor="middle">Dec</text>
<text x="372.1" y="989.9" font-size="12" font-weight="bold" fill="#131722" text-anchor="middle" textLength="31.8" lengthAdjust="spacingAndGlyphs">2025</text>
<text x="455.1" y="989.9" font-size="12" fill="#131722" stroke="#131722" stroke-width="0.2" text-anchor="middle">Feb</text>
<text x="538.1" y="989.9" font-size="12" fill="#131722" stroke="#131722" stroke-width="0.2" text-anchor="middle">Mar</text>
<text x="641.1" y="989.9" font-size="12" fill="#131722" stroke="#131722" stroke-width="0.2" text-anchor="middle">Apr</text>
<text x="724.1" y="989.9" font-size="12" fill="#131722" stroke="#131722" stroke-width="0.2" text-anchor="middle">May</text>
<text x="807.1" y="989.9" font-size="12" fill="#131722" stroke="#131722" stroke-width="0.2" text-anchor="middle">Jun</text>
<text x="911.1" y="989.9" font-size="12" fill="#131722" stroke="#131722" stroke-width="0.2" text-anchor="middle">Jul</text>
<text x="993.1" y="989.9" font-size="12" fill="#131722" stroke="#131722" stroke-width="0.2" text-anchor="middle">Aug</text>
<text x="1076.1" y="989.9" font-size="12" fill="#131722" stroke="#131722" stroke-width="0.2" text-anchor="middle">Sep</text>
<text x="1180.1" y="989.9" font-size="12" fill="#131722" stroke="#131722" stroke-width="0.2" text-anchor="middle">Oct</text>
<text x="1262.1" y="989.9" font-size="12" fill="#131722" stroke="#131722" stroke-width="0.2" text-anchor="middle">Nov</text>
<text x="1345.1" y="989.9" font-size="12" fill="#131722" stroke="#131722" stroke-width="0.2" text-anchor="middle">Dec</text>
<text x="1449.1" y="989.9" font-size="12" font-weight="bold" fill="#131722" text-anchor="middle" textLength="31.8" lengthAdjust="spacingAndGlyphs">2026</text>
<text x="1532.1" y="989.9" font-size="12" fill="#131722" stroke="#131722" stroke-width="0.2" text-anchor="middle">Feb</text>
<text x="1614.1" y="989.9" font-size="12" fill="#131722" stroke="#131722" stroke-width="0.2" text-anchor="middle">Mar</text>
<text x="1718.1" y="989.9" font-size="12" fill="#131722" stroke="#131722" stroke-width="0.2" text-anchor="middle">Apr</text>
<text x="10.3" y="22.1" font-size="13" fill="#131722" stroke="#131722" stroke-width="0.2" textLength="355.5" lengthAdjust="spacingAndGlyphs">breeze created with TradingView.com, Oct 23, 2025 01:24 UTC</text>
<text x="18.2" y="136.7" font-size="12" stroke-width="0.2" fill="#131722" stroke="#131722" textLength="202" lengthAdjust="spacingAndGlyphs">MARA Holdings, Inc. · 1W · NASDAQ</text>
<text x="228.2" y="136.7" font-size="12" stroke-width="0.2" fill="#131722" stroke="#131722">O</text>
<text x="236.5" y="136.7" font-size="12" stroke-width="0.2" fill="#ef5350" stroke="#ef5350" textLength="32" lengthAdjust="spacingAndGlyphs">20.55</text>
<text x="276.3" y="136.7" font-size="12" stroke-width="0.2" fill="#131722" stroke="#131722">H</text>
<text x="285.0" y="136.7" font-size="12" stroke-width="0.2" fill="#ef5350" stroke="#ef5350" textLength="32" lengthAdjust="spacingAndGlyphs">22.09</text>
<text x="324.2" y="136.7" font-size="12" stroke-width="0.2" fill="#131722" stroke="#131722">L</text>
<text x="331.6" y="136.7" font-size="12" stroke-width="0.2" fill="#ef5350" stroke="#ef5350" textLength="30.3" lengthAdjust="spacingAndGlyphs">18.39</text>
<text x="369.0" y="136.7" font-size="12" stroke-width="0.2" fill="#131722" stroke="#131722">C</text>
<text x="378.3" y="136.7" font-size="12" stroke-width="0.2" fill="#ef5350" stroke="#ef5350" textLength="28" lengthAdjust="spacingAndGlyphs">19.15</text>
<text x="413.8" y="136.7" font-size="12" stroke-width="0.2" fill="#ef5350" stroke="#ef5350" textLength="86" lengthAdjust="spacingAndGlyphs">−0.42 (−2.15%)</text>
<g fill="#141414"><path d="M11.9,1021 H24 V1035.75 H17.9 V1026.7 H11.9 Z"/><circle cx="28.8" cy="1023.9" r="2.85"/><path d="M34.7,1021 H41.9 L36.4,1035.75 H29.0 Z"/>
<text x="49.2" y="1035.75" font-size="20.5" font-weight="bold" textLength="120.4" lengthAdjust="spacingAndGlyphs">TradingView</text></g>
</svg>
</body></html>
